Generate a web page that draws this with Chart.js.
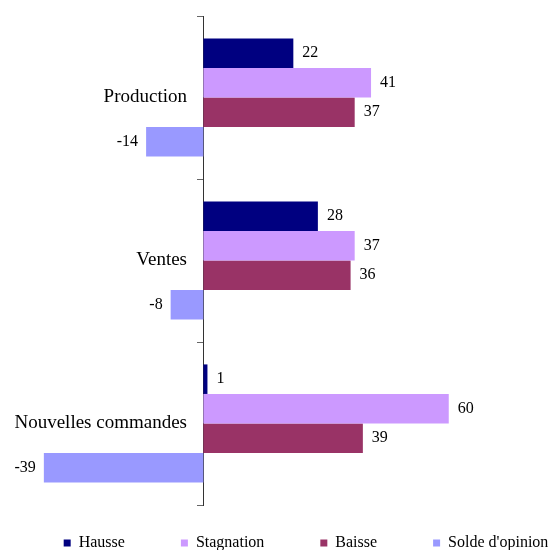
<!DOCTYPE html>
<html>
<head>
<meta charset="utf-8">
<script src="https://cdn.jsdelivr.net/npm/chart.js@4.4.0/dist/chart.umd.min.js"></script>
<style>
  html, body { margin: 0; padding: 0; background: #fff; }
  #wrap { width: 551px; height: 550px; }
</style>
</head>
<body>
<div id="wrap"><canvas id="graph"></canvas></div>
<script>
const categories = ['Production', 'Ventes', 'Nouvelles commandes']
const hausse = [22, 28, 1]
const stagnation = [41, 37, 60]
const baisse = [37, 36, 39]
const solde = [-14, -8, -39]

const serif = '"Liberation Serif", "Times New Roman", serif'
Chart.defaults.font.family = serif
Chart.defaults.color = '#000'

// valeurs au bout des barres
const valueLabels = {
	id: 'valueLabels',
	afterDatasetsDraw(chart) {
		const ctx = chart.ctx
		ctx.save()
		ctx.font = '16px ' + serif
		ctx.fillStyle = '#000'
		ctx.textBaseline = 'middle'
		chart.data.datasets.forEach((ds, i) => {
			chart.getDatasetMeta(i).data.forEach((bar, j) => {
				const v = ds.data[j]
				if (v >= 0) {
					ctx.textAlign = 'left'
					ctx.fillText(v, bar.x + 9, bar.y)
				} else {
					ctx.textAlign = 'right'
					ctx.fillText(v, bar.x - 8, bar.y)
				}
			})
		})
		ctx.restore()
	}
}

// légende : padding large pour l'espacement horizontal, on la remonte ensuite
const legendShift = {
	id: 'legendShift',
	afterLayout(chart) {
		const lg = chart.legend
		lg.top -= 26
		lg.bottom -= 26
	}
}

document.addEventListener('DOMContentLoaded', function() {
	let context = document.querySelector('#graph').getContext('2d')
	new Chart(context, {
		type: 'bar',
		data: {
			labels: categories,
			datasets: [
				{ label: 'Hausse', data: hausse, backgroundColor: '#000080' },
				{ label: 'Stagnation', data: stagnation, backgroundColor: '#cc99ff' },
				{ label: 'Baisse', data: baisse, backgroundColor: '#993366' },
				{ label: "Solde d'opinion", data: solde, backgroundColor: '#9999ff' },
			],
		},
		options: {
			indexAxis: 'y',
			responsive: true,
			maintainAspectRatio: false,
			animation: false,
			datasets: {
				bar: { categoryPercentage: 0.725, barPercentage: 1.0 },
			},
			layout: {
				padding: { top: 16, right: -56, left: 5, bottom: -37 },
			},
			plugins: {
				tooltip: { enabled: false },
				legend: {
					position: 'bottom',
					labels: {
						boxWidth: 7,
						boxHeight: 7,
						padding: 56,
						color: '#000',
						font: { family: serif, size: 16 },
					},
				},
			},
			scales: {
				x: {
					display: false,
					min: -48.5,
					max: 85,
				},
				// axe vertical au zéro, avec ses petites graduations
				y: {
					position: { x: 0 },
					border: { display: true, color: '#333', width: 1 },
					grid: {
						drawOnChartArea: false,
						drawTicks: true,
						tickLength: 6,
						color: '#666',
					},
					ticks: { display: false },
				},
				// étiquettes des catégories, un peu à gauche de l'axe
				yLabels: {
					type: 'category',
					axis: 'y',
					offset: true,
					position: { x: -4 },
					border: { display: false },
					grid: { display: false },
					ticks: {
						color: '#000',
						font: { family: serif, size: 19 },
					},
				},
			},
		},
		plugins: [valueLabels, legendShift],
	})
})
</script>
</body>
</html>
